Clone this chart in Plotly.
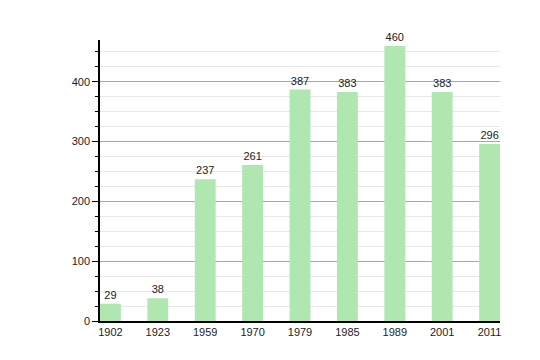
import plotly.graph_objects as go

years = ["1902", "1923", "1959", "1970", "1979", "1985", "1989", "2001", "2011"]
population = [29, 38, 237, 261, 387, 383, 460, 383, 296]

fig = go.Figure(go.Bar(
    x=years, y=population,
    marker=dict(color="#b0e6b0", line=dict(width=0)),
    text=[str(v) for v in population], textposition="outside",
    textfont=dict(family="Liberation Sans, Arial", size=11, color="#222"),
    cliponaxis=False, width=0.44,
))

fig.update_layout(
    width=540, height=360,
    margin=dict(l=100, r=40, t=40, b=39),
    plot_bgcolor="white", paper_bgcolor="white",
    showlegend=False,
    font=dict(family="Liberation Sans, Arial", size=11, color="#222"),
    xaxis=dict(
        type="category", range=[-0.22, 8.22],
        showline=True, linecolor="black", linewidth=1.5,
        ticks="", showgrid=False, tickfont=dict(size=11),
    ),
    yaxis=dict(
        range=[0, 470], dtick=100, tick0=0,
        showline=True, linecolor="black", linewidth=1.5,
        ticks="outside", ticklen=6, tickcolor="black",
        showgrid=True, gridcolor="#a8a8a8", gridwidth=1,
        zeroline=False,
        minor=dict(dtick=25, ticks="outside", ticklen=3, tickcolor="black",
                   showgrid=True, gridcolor="#e8e8e8", gridwidth=1),
        tickfont=dict(size=11),
    ),
)

fig.write_html("out.html")
